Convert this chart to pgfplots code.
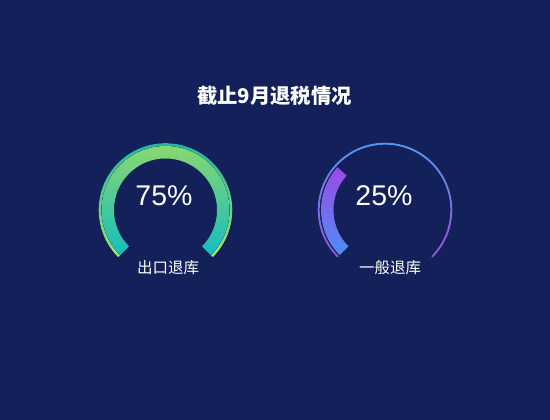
\documentclass[border=0pt]{standalone}
\usepackage{pgfplots}
\pgfplotsset{compat=1.18}
\usepackage{fontspec}
\setmainfont{Liberation Sans}
\newfontfamily\cjk{Noto Sans CJK SC}
\definecolor{bg}{HTML}{13205A}
\definecolor{gtop}{HTML}{8FD96C}
\definecolor{gbot}{HTML}{14BDC0}
\definecolor{tltop}{HTML}{17B3B8}
\definecolor{tlbot}{HTML}{A8E06C}
\definecolor{ptop}{HTML}{9A4BE6}
\definecolor{pbot}{HTML}{4E8EF4}
\definecolor{btop}{HTML}{4E9CF1}
\definecolor{bbot}{HTML}{9650E0}
% gauge data: value (%), band end angle (start 225)
\def\valA{75}\def\endA{-45}
\def\valB{25}\def\endB{138}
\begin{document}
\begin{tikzpicture}
\fill[bg] (0,0) rectangle (550pt,420pt);
\begin{axis}[
  at={(0,0)}, anchor=south west,
  width=550pt, height=420pt, scale only axis,
  xmin=0, xmax=550, ymin=0, ymax=420,
  axis lines=none, ticks=none, clip=false]
\addplot[draw=none, mark=none, forget plot] coordinates {(165.5,210) (385,210)};
% title
\node[text=white, font=\cjk\bfseries\fontsize{20.3}{23}\selectfont] at (axis cs:274.5,324) {截止9月退税情况};
% left gauge: thin ring
\fill[top color=tltop, bottom color=tlbot]
  (axis cs:165.5,210) ++(225:66.8pt) arc[start angle=225, end angle=-45, radius=66.8pt]
  -- ++(-45:-2.8pt) arc[start angle=-45, end angle=225, radius=64pt] -- cycle;
% left gauge: band
\fill[top color=gtop, bottom color=gbot]
  (axis cs:165.5,210) ++(225:64pt) arc[start angle=225, end angle=\endA, radius=64pt]
  -- ++(\endA:-12.5pt) arc[start angle=\endA, end angle=225, radius=51.5pt] -- cycle;
\node[text=white, font=\fontsize{28.5}{30}\selectfont] at (axis cs:164,224) {\valA\%};
\node[text=white, font=\cjk\fontsize{15.5}{17}\selectfont] at (axis cs:168,152.5) {出口退库};
% right gauge: thin ring
\fill[top color=btop, bottom color=bbot]
  (axis cs:385,210) ++(225:67.3pt) arc[start angle=225, end angle=-45, radius=67.3pt]
  -- ++(-45:-2pt) arc[start angle=-45, end angle=225, radius=65.3pt] -- cycle;
% right gauge: band
\fill[top color=ptop, bottom color=pbot]
  (axis cs:385,210) ++(225:64pt) arc[start angle=225, end angle=\endB, radius=64pt]
  -- ++(\endB:-12.5pt) arc[start angle=\endB, end angle=225, radius=51.5pt] -- cycle;
\node[text=white, font=\fontsize{28.5}{30}\selectfont] at (axis cs:384,224) {\valB\%};
\node[text=white, font=\cjk\fontsize{15.5}{17}\selectfont] at (axis cs:390,152.5) {一般退库};
\end{axis}
\end{tikzpicture}
\end{document}
